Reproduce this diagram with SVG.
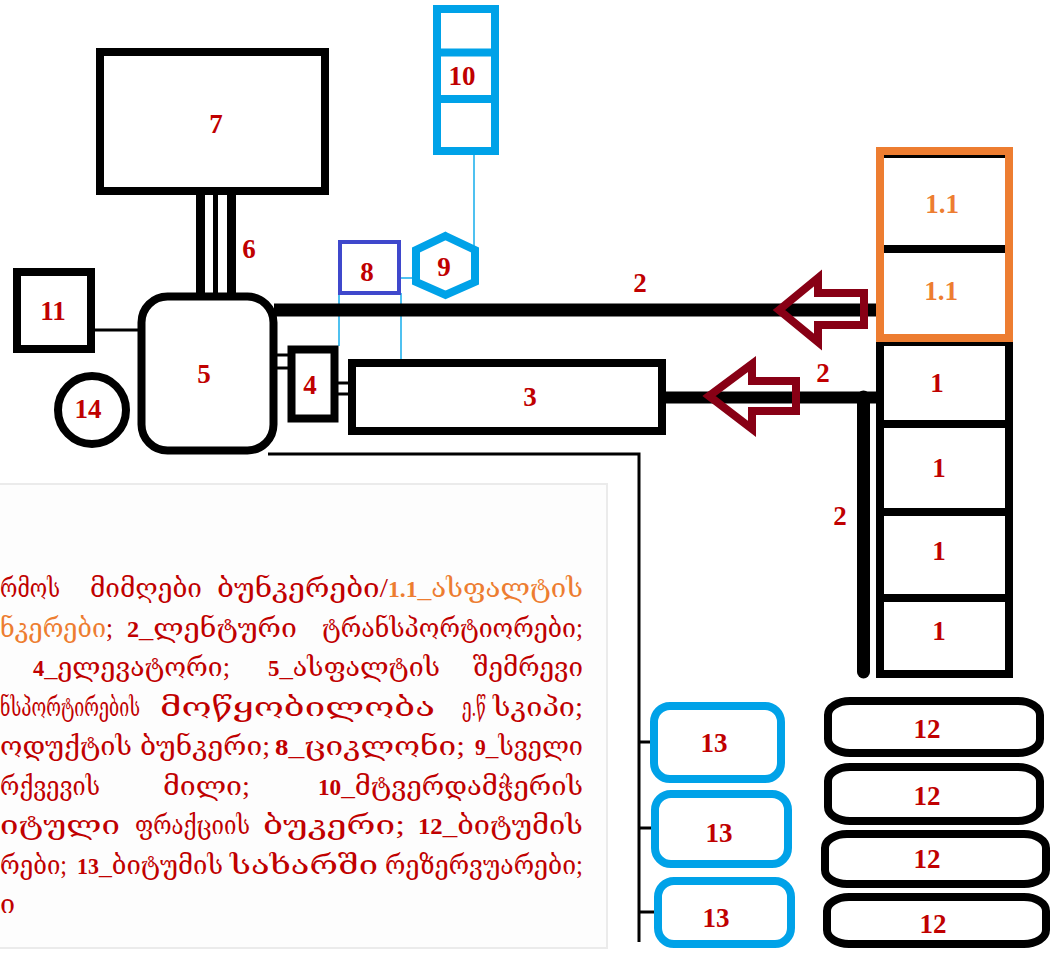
<svg xmlns="http://www.w3.org/2000/svg" width="1061" height="953" viewBox="0 0 1061 953">
<style>
.bk{fill:none;stroke:#000;stroke-width:8}
.bl{fill:none;stroke:#00a2e8;stroke-width:8}
.thin{fill:none;stroke:#000;stroke-width:3}
.tb{fill:none;stroke:#4fc1f0;stroke-width:2}
.lbl{font-family:'Liberation Serif','DejaVu Serif',serif;font-weight:bold;font-size:27px;fill:#c00000;text-anchor:middle}
.or{fill:#ed7d31}
.lg{font-family:'Liberation Serif','DejaVu Serif','DejaVu Sans',serif;font-size:27px;fill:#c00000}
.b{font-weight:bold;font-size:23px}
.arr{fill:none;stroke:#880015;stroke-width:8;stroke-linejoin:miter}
</style>
<rect width="1061" height="953" fill="#fff"/>

<g id="legend">
<rect x="-5" y="484" width="612" height="464" fill="#fdfdfd" stroke="#ebebeb" stroke-width="2"/>
<text class="lg" x="0" y="597" textLength="60" lengthAdjust="spacingAndGlyphs">რმოს</text>
<text class="lg" x="90" y="597" textLength="112" lengthAdjust="spacingAndGlyphs">მიმღები</text>
<text class="lg" x="217" y="597" textLength="171" lengthAdjust="spacingAndGlyphs">ბუნკერები/</text>
<text class="lg" x="388" y="597" textLength="195" lengthAdjust="spacingAndGlyphs"><tspan class="b or">1.1</tspan><tspan class="or">_ასფალტის</tspan></text>

<text class="lg" x="0" y="637" textLength="113" lengthAdjust="spacingAndGlyphs"><tspan class="or">ნკერები</tspan>;</text>
<text class="lg" x="127" y="637" textLength="170" lengthAdjust="spacingAndGlyphs"><tspan class="b">2</tspan>_ლენტური</text>
<text class="lg" x="322" y="637" textLength="261" lengthAdjust="spacingAndGlyphs">ტრანსპორტიორები;</text>

<text class="lg" x="33" y="676" textLength="197" lengthAdjust="spacingAndGlyphs"><tspan class="b">4</tspan>_ელევატორი;</text>
<text class="lg" x="268" y="676" textLength="172" lengthAdjust="spacingAndGlyphs"><tspan class="b">5</tspan>_ასფალტის</text>
<text class="lg" x="473" y="676" textLength="110" lengthAdjust="spacingAndGlyphs">შემრევი</text>

<text class="lg" x="0" y="716" textLength="140" lengthAdjust="spacingAndGlyphs">ნსპორტირების</text>
<text class="lg" x="160" y="716" textLength="275" lengthAdjust="spacingAndGlyphs">მოწყობილობა</text>
<text class="lg" x="462" y="716" textLength="24" lengthAdjust="spacingAndGlyphs">ე.წ</text>
<text class="lg" x="493" y="716" textLength="90" lengthAdjust="spacingAndGlyphs">სკიპი;</text>

<text class="lg" x="0" y="755" textLength="132" lengthAdjust="spacingAndGlyphs">ოდუქტის</text>
<text class="lg" x="140" y="755" textLength="130" lengthAdjust="spacingAndGlyphs">ბუნკერი;</text>
<text class="lg" x="275" y="755" textLength="190" lengthAdjust="spacingAndGlyphs"><tspan class="b">8</tspan>_ციკლონი;</text>
<text class="lg" x="475" y="755" textLength="108" lengthAdjust="spacingAndGlyphs"><tspan class="b">9</tspan>_სველი</text>

<text class="lg" x="0" y="795" textLength="100" lengthAdjust="spacingAndGlyphs">რქვევის</text>
<text class="lg" x="163" y="795" textLength="87" lengthAdjust="spacingAndGlyphs">მილი;</text>
<text class="lg" x="318" y="795" textLength="265" lengthAdjust="spacingAndGlyphs"><tspan class="b">10</tspan>_მტვერდამჭერის</text>

<text class="lg" x="0" y="834" textLength="120" lengthAdjust="spacingAndGlyphs">იტული</text>
<text class="lg" x="135" y="834" textLength="115" lengthAdjust="spacingAndGlyphs">ფრაქციის</text>
<text class="lg" x="263" y="834" textLength="142" lengthAdjust="spacingAndGlyphs">ბუკერი;</text>
<text class="lg" x="418" y="834" textLength="165" lengthAdjust="spacingAndGlyphs"><tspan class="b">12</tspan>_ბიტუმის</text>

<text class="lg" x="0" y="874" textLength="67" lengthAdjust="spacingAndGlyphs">რები;</text>
<text class="lg" x="77" y="874" textLength="146" lengthAdjust="spacingAndGlyphs"><tspan class="b">13</tspan>_ბიტუმის</text>
<text class="lg" x="230" y="874" textLength="148" lengthAdjust="spacingAndGlyphs">სახარში</text>
<text class="lg" x="385" y="874" textLength="198" lengthAdjust="spacingAndGlyphs">რეზერვუარები;</text>

<text class="lg" x="0" y="913">ი</text>
</g>

<g id="connectors">
<line x1="200.5" y1="194" x2="200.5" y2="297" stroke="#000" stroke-width="9"/>
<line x1="215.5" y1="194" x2="215.5" y2="297" stroke="#000" stroke-width="5"/>
<line x1="231.5" y1="194" x2="231.5" y2="297" stroke="#000" stroke-width="9"/>
<line x1="94" y1="330" x2="139" y2="330" class="thin"/>
<line x1="276" y1="355" x2="289" y2="355" class="thin" stroke-width="2"/>
<line x1="276" y1="368" x2="289" y2="368" class="thin" stroke-width="2"/>
<line x1="337" y1="383" x2="350" y2="383" class="thin" stroke-width="2"/>
<line x1="337" y1="394" x2="350" y2="394" class="thin" stroke-width="2"/>
<polyline points="268,454 639,454 639,942" class="thin" stroke-width="4"/>
<line x1="639" y1="742" x2="654" y2="742" class="thin"/>
<line x1="639" y1="828" x2="655" y2="828" class="thin"/>
<line x1="639" y1="912" x2="658" y2="912" class="thin"/>
<line x1="339" y1="293" x2="339" y2="346" class="tb"/>
<line x1="401" y1="293" x2="401" y2="360" class="tb"/>
<line x1="401" y1="278" x2="416" y2="278" class="tb"/>
<line x1="474" y1="154" x2="474" y2="248" class="tb"/>
<line x1="274" y1="310" x2="878" y2="310" stroke="#000" stroke-width="13"/>
<line x1="664" y1="397.5" x2="878" y2="397.5" stroke="#000" stroke-width="12"/>
<line x1="863.5" y1="397" x2="863.5" y2="672" stroke="#000" stroke-width="13" stroke-linecap="round"/>
<polygon class="arr" points="779,310 818,278 818,293 864,293 864,325 818,325 818,342"/>
<polygon class="arr" points="709,396 752,364 752,381 796,381 796,411 752,411 752,429"/>
<text class="lbl" x="640" y="292">2</text>
<text class="lbl" x="823" y="382">2</text>
<text class="lbl" x="840" y="525">2</text>
<text class="lbl" x="249" y="258">6</text>
</g>

<g id="n7"><rect class="bk" x="100" y="52" width="225" height="139"/><text class="lbl" x="216" y="133">7</text></g>
<g id="n10">
<rect class="bl" x="437" y="9" width="58" height="142"/>
<line x1="437" y1="52.5" x2="495" y2="52.5" stroke="#00a2e8" stroke-width="8"/>
<line x1="437" y1="99" x2="495" y2="99" stroke="#00a2e8" stroke-width="8"/>
<text class="lbl" x="462" y="85">10</text>
</g>
<g id="n9"><polygon class="bl" points="445.5,236 475,250 475,282 445.5,295 416,282 416,250"/><text class="lbl" x="444" y="276">9</text></g>
<g id="n8"><rect x="340" y="242" width="59" height="51" fill="none" stroke="#3f48cc" stroke-width="4"/><text class="lbl" x="367" y="281">8</text></g>
<g id="n11"><rect class="bk" x="17" y="272" width="74" height="77"/><text class="lbl" x="53" y="320">11</text></g>
<g id="n5"><rect class="bk" x="141.5" y="296.5" width="132" height="154" rx="26" stroke-width="9"/><text class="lbl" x="204" y="383">5</text></g>
<g id="n14"><circle class="bk" cx="92" cy="410" r="34"/><text class="lbl" x="88" y="418">14</text></g>
<g id="n4"><rect class="bk" x="291.5" y="349.5" width="43" height="69" stroke-width="9"/><text class="lbl" x="310" y="394">4</text></g>
<g id="n3"><rect class="bk" x="352" y="363" width="310" height="68"/><text class="lbl" x="530" y="406">3</text></g>

<g id="n1">
<rect class="bk" x="880" y="342" width="129" height="332"/>
<line x1="880" y1="424" x2="1009" y2="424" stroke="#000" stroke-width="8"/>
<line x1="880" y1="512" x2="1009" y2="512" stroke="#000" stroke-width="8"/>
<line x1="880" y1="598" x2="1009" y2="598" stroke="#000" stroke-width="8"/>
<text class="lbl" x="937" y="392">1</text>
<text class="lbl" x="939" y="477">1</text>
<text class="lbl" x="939" y="560">1</text>
<text class="lbl" x="939" y="640">1</text>
</g>
<g id="n1_1">
<line x1="884" y1="155.5" x2="1005" y2="155.5" stroke="#000" stroke-width="5"/>
<line x1="884" y1="249" x2="1005" y2="249" stroke="#000" stroke-width="8"/>
<rect x="880" y="151" width="129" height="187" fill="none" stroke="#ed7d31" stroke-width="8"/>
<text class="lbl or" x="942" y="213">1.1</text>
<text class="lbl or" x="941" y="300">1.1</text>
</g>

<g id="n13a"><rect class="bl" x="654" y="706" width="127" height="73" rx="16"/><text class="lbl" x="714" y="752">13</text></g>
<g id="n13b"><rect class="bl" x="655" y="794" width="133" height="70" rx="16"/><text class="lbl" x="719" y="842">13</text></g>
<g id="n13c"><rect class="bl" x="658" y="881" width="133" height="63" rx="16"/><text class="lbl" x="716" y="927">13</text></g>

<g id="n12a"><rect class="bk" x="828" y="701" width="212" height="52" rx="22" ry="14"/><text class="lbl" x="927" y="738">12</text></g>
<g id="n12b"><rect class="bk" x="828" y="767" width="212" height="54" rx="22" ry="14"/><text class="lbl" x="927" y="805">12</text></g>
<g id="n12c"><rect class="bk" x="825" y="834" width="221" height="50" rx="22" ry="14"/><text class="lbl" x="927" y="868">12</text></g>
<g id="n12d"><rect class="bk" x="827" y="897" width="219" height="47" rx="22" ry="14"/><text class="lbl" x="933" y="933">12</text></g>
</svg>
